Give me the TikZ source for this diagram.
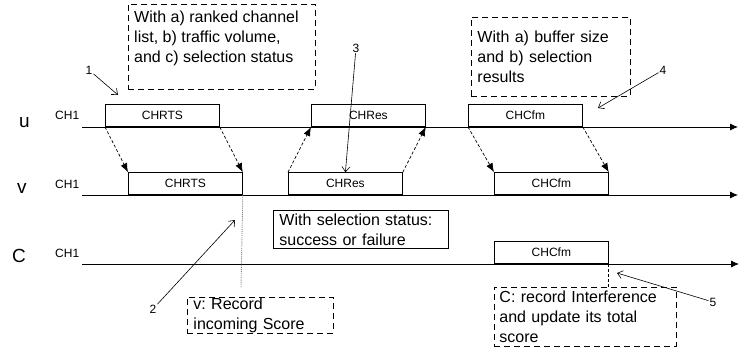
\documentclass[tikz,border=0pt]{standalone}
\usepackage{fontspec}
\setmainfont{Liberation Sans}
\usetikzlibrary{arrows.meta}
\frenchspacing
\begin{document}
\begin{tikzpicture}[x=1pt,y=-1pt,
  axis/.style={line width=0.8pt, -{Latex[length=8pt,width=7pt]}},
  chbox/.style={draw, line width=0.8pt, minimum width=114pt, minimum height=22pt, inner sep=0pt, font=\fontsize{12}{14}\selectfont, anchor=south west},
  flow/.style={line width=0.7pt, dash pattern=on 3pt off 2pt, -{Latex[length=9pt,width=7pt]}},
  note/.style={draw, dash pattern=on 6pt off 4pt, line width=0.9pt, align=left, font=\fontsize{16}{20}\selectfont, anchor=north west, inner xsep=6pt},
  solidnote/.style={draw, line width=0.9pt, align=left, font=\fontsize{16}{20}\selectfont, anchor=north west, inner xsep=6pt},
  notetext/.style={align=left, font=\fontsize{16}{20}\selectfont, inner sep=0pt, anchor=north west},
  ptr/.style={line width=0.6pt, -{Straight Barb[length=5pt,width=8pt]}},
  num/.style={font=\fontsize{12}{14}\selectfont, inner sep=1pt},
  ch/.style={font=\fontsize{12}{14}\selectfont, anchor=base west, inner sep=0pt},
  who/.style={font=\fontsize{19}{20}\selectfont, anchor=base west, inner sep=0pt}
]
\useasboundingbox (0,0) rectangle (739,351);

% row labels
\node[who] (lu) at (19,127) {u};
\node[who] (lv) at (17,193) {v};
\node[who] (lc) at (12,262) {C};
\node[ch] (chu) at (55,119) {CH1};
\node[ch] (chv) at (55,188) {CH1};
\node[ch] (chc) at (55,257) {CH1};

% frames
\node[chbox] (uRTS) at (105,127) {CHRTS};
\node[chbox] (uRes) at (311,127) {CHRes};
\node[chbox] (uCfm) at (468,127) {CHCfm};
\node[chbox] (vRTS) at (128,195) {CHRTS};
\node[chbox] (vRes) at (288,195) {CHRes};
\node[chbox] (vCfm) at (494,195) {CHCfm};
\node[chbox] (cCfm) at (494,264) {CHCfm};

% time axes
\coordinate (u0) at (82,127); \coordinate (u1) at (738,127);
\coordinate (v0) at (82,195); \coordinate (v1) at (738,195);
\coordinate (c0) at (82,264); \coordinate (c1) at (739,264);
\draw[axis] (u0) -- (u1);
\draw[axis] (v0) -- (v1);
\draw[axis] (c0) -- (c1);

% transmissions
\draw[flow] (uRTS.south west) -- (vRTS.north west);
\draw[flow] (uRTS.south east) -- (vRTS.north east);
\draw[flow] (vRes.north west) -- (uRes.south west);
\draw[flow] (vRes.north east) -- (uRes.south east);
\draw[flow] (uCfm.south west) -- (vCfm.north west);
\draw[flow] (uCfm.south east) -- (vCfm.north east);

% notes
\node[note, minimum width=187pt, minimum height=85pt, inner sep=0pt] (n1) at (128,4) {};
\node[notetext] (n1t) at ([shift={(6,6.5)}]n1.north west) {With a) ranked channel\\list, b) traffic volume,\\and c) selection status};
\node[note, text width=147pt, minimum height=79pt] (n2) at (471,17) {With a) buffer size\\and b) selection\\results};
\node[solidnote, text width=163pt, inner ysep=1.5pt, minimum height=38pt] (n3) at (273,210) {With selection status:\\success or failure};
\node[note, text width=134pt, inner ysep=0.5pt, minimum height=36pt] (n4) at (187,297) {v: Record\\incoming Score};
\node[note, text width=172pt, inner xsep=5pt, inner ysep=2pt, minimum height=59pt] (n5) at (494,287) {C: record Interference\\and update its total\\score};

% markers
\coordinate (vmark) at (241,287);
\draw[densely dotted, gray, line width=0.9pt] (vRTS.south east) -- (vmark);
\draw[line width=0.7pt, dash pattern=on 3pt off 2pt] (cCfm.south east) -- (n5.north -| cCfm.south east);

% numbered pointers
\node[num] (l1) at (89,70) {1};
\coordinate (t1) at (118,95);
\draw[ptr] (l1) -- (t1);
\node[num] (l3) at (356,48) {3};
\draw[ptr] (l3) -- (vRes.north);
\node[num] (l4) at (663,70) {4};
\coordinate (t4) at (598,108);
\draw[ptr] (l4) -- (t4);
\node[num] (l2) at (153,309) {2};
\coordinate (t2) at (235,220);
\draw[ptr] (l2) -- (t2);
\node[num] (l5) at (713,302) {5};
\coordinate (t5) at (617,273);
\draw[ptr] (l5) -- (t5);
\end{tikzpicture}
\end{document}
